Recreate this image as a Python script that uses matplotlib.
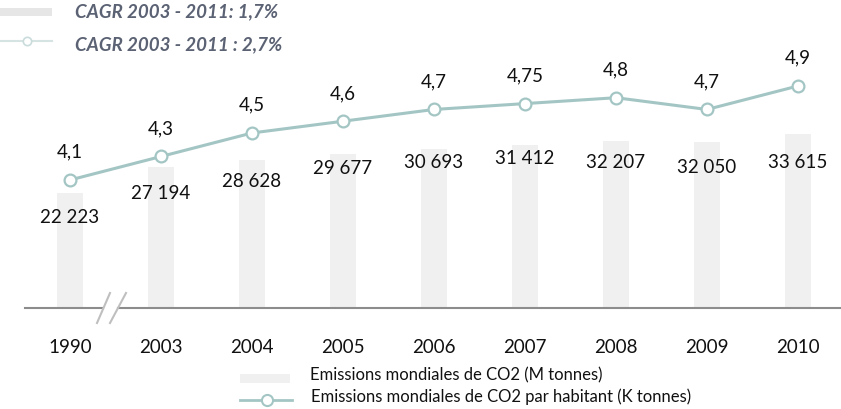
import matplotlib
matplotlib.use('Agg')
import matplotlib.pyplot as plt
from matplotlib.lines import Line2D
from matplotlib.patches import Rectangle

plt.rcParams['font.family'] = ['Lato', 'DejaVu Sans']

years = ['1990', '2003', '2004', '2005', '2006', '2007', '2008', '2009', '2010']
emissions = [22223, 27194, 28628, 29677, 30693, 31412, 32207, 32050, 33615]
emissions_lbl = ['22 223', '27 194', '28 628', '29 677', '30 693', '31 412', '32 207', '32 050', '33 615']
per_capita = [4.1, 4.3, 4.5, 4.6, 4.7, 4.75, 4.8, 4.7, 4.9]
per_capita_lbl = ['4,1', '4,3', '4,5', '4,6', '4,7', '4,75', '4,8', '4,7', '4,9']
cagr_bars = 'CAGR 2003 - 2011: 1,7%'
cagr_line = 'CAGR 2003 - 2011 : 2,7%'
legend_bars = 'Emissions mondiales de CO2 (M tonnes)'
legend_line = 'Emissions mondiales de CO2 par habitant (K tonnes)'

W, H = 841, 409
BAR_C = '#f0f0f0'
LINE_C = '#a3c6c4'
TXT_C = '#5b6273'

def fx(px):
    return px / W

def fy(py):
    return 1 - py / H

fig = plt.figure(figsize=(W / 100, H / 100), dpi=100)
ax = fig.add_axes([fx(24.5), fy(308), 819 / W, 268 / H])
x = list(range(len(years)))

ax.bar(x, emissions, width=0.29, color=BAR_C, zorder=1)
ax.set_ylim(0, 51787)
ax.set_xlim(-0.5, 8.5)

# bar labels, offset below the top (px) to dodge the line
bar_lbl_dy = [25, 26, 22, 14, 13, 13, 21, 25, 28]
for i, (v, s) in enumerate(zip(emissions, emissions_lbl)):
    ax.annotate(s, (i, v), xytext=(0, -bar_lbl_dy[i] * 0.72), textcoords='offset points',
                ha='center', va='center', fontsize=13.5, color='#111111', zorder=5)

ax2 = ax.twinx()
ax2.plot(x, per_capita, color=LINE_C, lw=2.2, marker='o', ms=8.5, mfc='white',
         mec=LINE_C, mew=1.6, zorder=3)
ax2.set_ylim(3.011, 5.291)
for i, (v, s) in enumerate(zip(per_capita, per_capita_lbl)):
    ax2.annotate(s, (i, v), xytext=(0, 20), textcoords='offset points',
                 ha='center', va='center', fontsize=13.5, color='#111111')

for a in (ax, ax2):
    for sp in a.spines.values():
        sp.set_visible(False)
    a.set_yticks([])
ax.set_xticks(x)
ax.set_xticklabels(years, fontsize=13.5, color='#111111')
ax.tick_params(axis='x', length=0, pad=22)

# axis line with break between 1990 and 2003
fig.add_artist(Line2D([fx(25), fx(103)], [fy(308), fy(308)], color='#8c8c8c', lw=1.5))
fig.add_artist(Line2D([fx(118), fx(841)], [fy(308), fy(308)], color='#8c8c8c', lw=1.5))
fig.add_artist(Line2D([fx(97), fx(110)], [fy(323), fy(293)], color='#bfbfbf', lw=1.5))
fig.add_artist(Line2D([fx(110), fx(126)], [fy(323), fy(293)], color='#bfbfbf', lw=1.5))

# top legend (CAGR)
fig.add_artist(Rectangle((fx(0), fy(16)), fx(52), 8 / H, color='#e6e6e6', lw=0))
fig.text(fx(75), fy(12), cagr_bars, fontsize=13.5, fontweight='bold', style='italic',
         color=TXT_C, va='center')
fig.add_artist(Line2D([fx(0), fx(52)], [fy(41), fy(41)], color='#d5e4e3', lw=1.5))
fig.add_artist(Line2D([fx(27)], [fy(41)], marker='o', ms=6, mfc='white', mec='#c9dcdb', mew=1.2))
fig.text(fx(75), fy(45), cagr_line, fontsize=13.5, fontweight='bold', style='italic',
         color=TXT_C, va='center')

# bottom legend
fig.add_artist(Rectangle((fx(240), fy(383)), 50 / W, 9 / H, color=BAR_C, lw=0))
fig.text(fx(310), fy(375), legend_bars, fontsize=12, color='#111111', va='center')
fig.add_artist(Line2D([fx(240), fx(292)], [fy(400), fy(400)], color=LINE_C, lw=2))
fig.add_artist(Line2D([fx(267)], [fy(400)], marker='o', ms=8, mfc='white', mec=LINE_C, mew=1.5))
fig.text(fx(311), fy(397), legend_line, fontsize=12, color='#111111', va='center')

fig.savefig('out.png', dpi=100)
